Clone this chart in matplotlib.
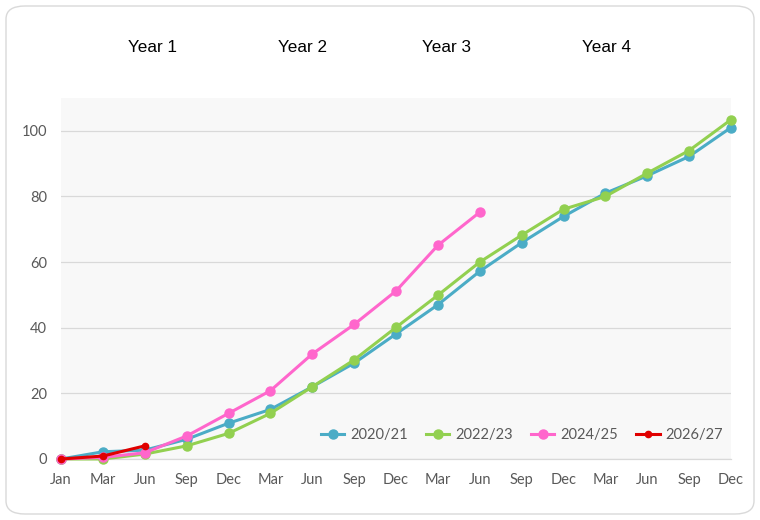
import matplotlib
matplotlib.use("Agg")
import matplotlib.pyplot as plt
from matplotlib.patches import FancyBboxPatch

months = ["Jan", "Mar", "Jun", "Sep", "Dec", "Mar", "Jun", "Sep", "Dec",
          "Mar", "Jun", "Sep", "Dec", "Mar", "Jun", "Sep", "Dec"]
s2020 = [0, 2.2, 2.7, 6, 10.9, 15.1, 22, 29.2, 38.1, 47, 57.2, 65.9, 73.9, 81, 86.3, 92.2, 101]
s2022 = [0, 0, 1.5, 4, 7.8, 13.9, 22, 30.2, 40.1, 49.9, 60, 68.2, 76.1, 80, 87.1, 94, 103.4]
s2024 = [0, 0.5, 1.9, 7, 13.9, 20.8, 32, 41, 51.2, 65.1, 75.2]
s2026 = [0, 0.9, 4]
series_names = ["2020/21", "2022/23", "2024/25", "2026/27"]
year_labels = ["Year 1", "Year 2", "Year 3", "Year 4"]
yticks = [0, 20, 40, 60, 80, 100]

fig = plt.figure(figsize=(7.6, 5.2), dpi=100)
fig.patch.set_facecolor("white")
border = FancyBboxPatch((6/760, 6/520), 748/760, 508/520,
                        boxstyle="round,pad=0,rounding_size=0.025",
                        transform=fig.transFigure, facecolor="white",
                        edgecolor="#d9d9d9", linewidth=1.0, zorder=-10)
fig.add_artist(border)

ax = fig.add_axes([61/760, (520-459)/520, (731-61)/760, (459-98)/520])
ax.set_zorder(1)
ax.set_facecolor("#f8f8f8")

x = list(range(len(months)))
colors = ["#4bacc6", "#92d050", "#ff66cc", "#e00000"]
data = [s2020, s2022, s2024, s2026]
for i, (name, vals) in enumerate(zip(series_names, data)):
    ms = 6.5 if i < 3 else 4.5
    ax.plot(x[:len(vals)], vals, color=colors[i], linewidth=2.2, marker="o",
            markersize=ms, label=name, zorder=3 + i, clip_on=False)

ax.set_xlim(0, len(months) - 1)
ax.set_ylim(0, 110)
ax.set_yticks(yticks)
ax.set_xticks(x)
ax.set_xticklabels(months)
ax.grid(axis="y", color="#d9d9d9", linewidth=0.9)
ax.set_axisbelow(True)
for sp in ["top", "right", "left"]:
    ax.spines[sp].set_visible(False)
ax.spines["bottom"].set_color("#d9d9d9")
ax.spines["bottom"].set_linewidth(0.9)
ax.tick_params(axis="both", length=0, colors="#595959", labelsize=10.5)
ax.tick_params(axis="y", pad=10)
ax.tick_params(axis="x", pad=10)
for lab in ax.get_xticklabels() + ax.get_yticklabels():
    lab.set_fontfamily("Lato")

leg = ax.legend(loc="center", bbox_to_anchor=(522/760, (520-435)/520),
                bbox_transform=fig.transFigure, ncol=4, frameon=False,
                handlelength=1.6, handletextpad=0.4, columnspacing=1.25,
                prop={"family": "Lato", "size": 10.5})
for t in leg.get_texts():
    t.set_color("#595959")

year_x = [153, 303, 446, 607]
for lbl, xp in zip(year_labels, year_x):
    fig.text(xp/760, (520-47)/520, lbl, ha="center", va="center",
             fontsize=12.3, family="Liberation Sans", color="black")

fig.savefig("out.png", dpi=100)
